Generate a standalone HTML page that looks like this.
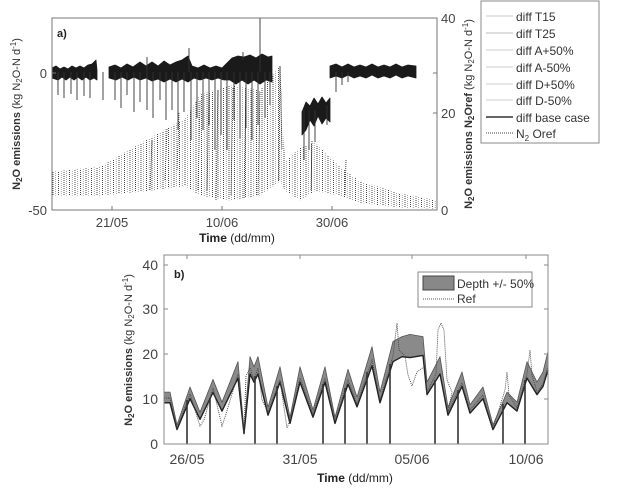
<!DOCTYPE html>
<html><head><meta charset="utf-8"><style>
html,body{margin:0;padding:0;background:#fff;}
svg{display:block;font-family:"Liberation Sans",sans-serif;}
</style></head><body>
<svg width="621" height="492" viewBox="0 0 621 492" xmlns="http://www.w3.org/2000/svg">
<defs>
<pattern id="zz" x="52" y="0" width="5.5" height="4" patternUnits="userSpaceOnUse">
<line x1="1" y1="0" x2="1" y2="4" stroke="#333" stroke-width="0.9" stroke-dasharray="1,1"/>
<line x1="3.7" y1="1" x2="3.7" y2="5" stroke="#666" stroke-width="0.6" stroke-dasharray="1,1"/>
</pattern>
</defs>
<rect width="621" height="492" fill="#fff"/>
<!-- top ref -->
<path d="M52,171.6 L100,166.8 L150,138 L185,118.8 L200,94.8 L230,85.2 L260,90 L280,66 L285,162 L300,147.6 L315,142.8 L340,166.8 L360,181.2 L400,193.2 L437,200.4 L437,208.6 L400,207.6 L360,202.8 L340,195.6 L315,190.8 L300,200.4 L285,190.8 L280,181.2 L260,195.6 L230,200.4 L200,195.6 L185,186 L150,190.8 L100,195.6 L52,195.6 Z" fill="url(#zz)"/>
<path d="M150,190 L152,140 M165,180 L167,128 M177,170 L179,112 M198,190 L200,100 M207,190 L209,95 M216,200 L218,90 M231,195 L233,88 M244,198 L246,85 M258,195 L260,92 M279,180 L280,66 L282,150 M311,190 L312,140 M345,195 L346,160" stroke="#333" stroke-width="0.9" stroke-dasharray="1,1" fill="none"/>
<!-- top diff band -->
<g fill="#1a1a1a" stroke="#1a1a1a" stroke-width="0.8" stroke-linejoin="round">
<path d="M52,68 L56,66 L60,69 L64,67 L68,69 L72,66 L76,68 L80,66 L84,68 L88,65 L92,64 L96,60 L97,70 L97,80 L94,78 L90,80 L86,77 L82,80 L78,77 L74,80 L70,77 L66,80 L62,77 L58,80 L52,78 Z"/>
<path d="M109,67 L115,65 L121,68 L127,64 L133,67 L140,62 L146,66 L152,62 L158,66 L164,61 L170,65 L176,62 L182,60 L188,56 L192,66 L198,68 L204,65 L210,68 L216,66 L222,68 L228,62 L232,58 L238,56 L244,57 L250,55 L256,58 L262,54 L268,57 L272,56 L272,82 L266,80 L260,84 L254,80 L248,84 L242,80 L236,84 L230,80 L224,80 L218,78 L212,80 L206,78 L200,80 L194,78 L188,82 L182,79 L176,82 L170,79 L164,82 L158,79 L152,81 L146,78 L140,80 L134,77 L128,80 L122,77 L116,80 L109,78 Z"/>
<path d="M302,112 L306,102 L310,106 L314,98 L318,104 L322,97 L326,103 L330,98 L330,122 L326,118 L322,124 L318,116 L314,126 L310,120 L306,130 L302,135 Z"/>
<path d="M330,66 L336,64 L342,67 L348,64 L354,67 L360,65 L366,67 L372,64 L378,67 L384,65 L390,67 L396,64 L402,67 L408,65 L416,66 L416,78 L408,76 L402,78 L396,75 L390,78 L384,76 L378,78 L372,75 L366,78 L360,76 L354,78 L348,75 L342,78 L336,76 L330,78 Z"/>
</g>
<path d="M58,72 L58,95 M64,72 L64,98 M71,72 L71,94 M77,72 L77,100 M84,72 L84,96 M90,72 L90,98 M103,72 L103,100 M115,72 L115,100 M121,72 L121,108 M127,72 L127,95 M134,72 L134,112 M140,72 L140,102 M147,72 L147,57 M147,72 L147,110 M153,72 L153,118 M160,72 L160,100 M166,72 L166,120 M172,72 L172,110 M178,72 L178,130 M184,72 L184,112 M189,72 L189,48 M191,72 L191,140 M197,72 L197,118 M203,72 L203,130 M209,72 L209,125 M215,72 L215,150 M221,72 L221,135 M227,72 L227,150 M234,72 L234,120 M240,72 L240,138 M243,60 L243,52 M246,72 L246,128 M252,72 L252,140 M258,72 L258,125 M260,72 L260,18 M265,72 L265,118 M270,72 L270,105 M304,110 L304,160 M309,110 L309,150 M315,110 L315,142 M327,105 L327,125 M336,72 L336,92 M342,72 L342,85 M348,72 L348,82" stroke="#333" stroke-width="0.9" fill="none"/>
<!-- top axes -->
<rect x="52" y="18" width="385" height="192" fill="none" stroke="#777" stroke-width="1"/>
<g fill="#444" font-size="13">
<text x="47" y="78" text-anchor="end">0</text>
<text x="47" y="215" text-anchor="end">-50</text>
<text x="441" y="23">40</text>
<text x="441" y="118">20</text>
<text x="441" y="215">0</text>
<text x="112" y="227" text-anchor="middle">21/05</text>
<text x="222" y="227" text-anchor="middle">10/06</text>
<text x="332" y="227" text-anchor="middle">30/06</text>
</g>
<g stroke="#777"><line x1="112" y1="210" x2="112" y2="206"/><line x1="222" y1="210" x2="222" y2="206"/><line x1="332" y1="210" x2="332" y2="206"/>
<line x1="437" y1="113" x2="433" y2="113"/><line x1="52" y1="73" x2="56" y2="73"/><line x1="437" y1="73" x2="433" y2="73"/></g>
<text x="57" y="37" font-size="11" font-weight="bold" fill="#222">a)</text>
<text x="237" y="242" text-anchor="middle" font-size="12" fill="#222"><tspan font-weight="bold">Time</tspan> (dd/mm)</text>
<text transform="translate(20,114) rotate(-90)" text-anchor="middle" font-size="11" fill="#333"><tspan font-weight="bold">N<tspan font-size="8" dy="2">2</tspan><tspan dy="-2">O emissions</tspan></tspan> (kg N<tspan font-size="8" dy="2">2</tspan><tspan dy="-2">O-N d</tspan><tspan font-size="8" dy="-4">-1</tspan><tspan dy="4">)</tspan></text>
<text transform="translate(472,114) rotate(-90)" text-anchor="middle" font-size="11" fill="#333"><tspan font-weight="bold">N<tspan font-size="8" dy="2">2</tspan><tspan dy="-2">O emissions  N</tspan><tspan font-size="8" dy="2">2</tspan><tspan dy="-2">Oref</tspan></tspan> (kg N<tspan font-size="8" dy="2">2</tspan><tspan dy="-2">O-N d</tspan><tspan font-size="8" dy="-4">-1</tspan><tspan dy="4">)</tspan></text>
<!-- legend top -->
<rect x="481" y="1" width="118" height="142" fill="#fff" stroke="#888"/>
<g font-size="12" fill="#333">
<line x1="486" y1="16" x2="513" y2="16" stroke="#ccc"/><text x="516" y="21">diff T15</text>
<line x1="486" y1="33" x2="513" y2="33" stroke="#bbb"/><text x="516" y="38">diff T25</text>
<line x1="486" y1="50" x2="513" y2="50" stroke="#ccc"/><text x="516" y="55">diff A+50%</text>
<line x1="486" y1="67" x2="513" y2="67" stroke="#ccc"/><text x="516" y="72">diff A-50%</text>
<line x1="486" y1="84" x2="513" y2="84" stroke="#ccc"/><text x="516" y="89">diff D+50%</text>
<line x1="486" y1="100" x2="513" y2="100" stroke="#ccc"/><text x="516" y="105">diff D-50%</text>
<line x1="486" y1="117" x2="513" y2="117" stroke="#333" stroke-width="1.5"/><text x="516" y="122">diff base case</text>
<line x1="486" y1="133" x2="513" y2="133" stroke="#444" stroke-dasharray="1,1"/><text x="516" y="138">N<tspan font-size="8" dy="3">2</tspan><tspan dy="-3"> Oref</tspan></text>
</g>
<!-- bottom band -->
<path d="M164,392.1 L170,392.1 L177,424.9 L190,387 L200,412.3 L213,379.4 L222,402.2 L238,361.7 L244,430 L250,356.7 L254,366.8 L258,356.7 L268,407.3 L280,366.8 L290,417.4 L300,366.8 L313,409.8 L325,366.8 L335,417.4 L348,369.3 L357,397.1 L372,346.6 L380,392.1 L393,341.5 L402,336.6 L410,334.4 L423,336.6 L427,382 L440,356.7 L448,407.3 L462,371.9 L470,404.7 L483,387 L493,424.9 L507,392.1 L517,402.2 L527,361.7 L537,382 L543,371.9 L548,351.6 L548,369.9 L543,386.4 L537,394.6 L527,378.1 L517,411.1 L507,402.8 L493,429.6 L483,398.7 L470,413.1 L462,386.4 L448,415.2 L440,374 L427,394.6 L423,355.4 L410,357.6 L402,356.7 L393,361.7 L380,402.8 L372,365.8 L357,406.9 L348,384.3 L335,423.4 L325,382.2 L313,417.2 L300,382.2 L290,423.4 L280,382.2 L268,415.2 L258,374 L254,382.2 L250,374 L244,433.7 L238,378.1 L222,411.1 L213,392.5 L200,419.3 L190,398.7 L177,429.6 L170,402.8 L164,402.8 Z" fill="#8a8a8a" stroke="#555" stroke-width="0.8" stroke-linejoin="round"/>
<path d="M164,402.8 L170,402.8 L177,429.6 L190,398.7 L200,419.3 L213,392.5 L222,411.1 L238,378.1 L244,433.7 L250,374 L254,382.2 L258,374 L268,415.2 L280,382.2 L290,423.4 L300,382.2 L313,417.2 L325,382.2 L335,423.4 L348,384.3 L357,406.9 L372,365.8 L380,402.8 L393,361.7 L402,356.7 L410,357.6 L423,355.4 L427,394.6 L440,374 L448,415.2 L462,386.4 L470,413.1 L483,398.7 L493,429.6 L507,402.8 L517,411.1 L527,378.1 L537,394.6 L543,386.4 L548,369.9" fill="none" stroke="#222" stroke-width="1.4" stroke-linejoin="round"/>
<!-- ref dotted -->
<path d="M164,398 L170,398 L177,428 L190,394 L200,426 L204,420 L213,388 L222,426 L226,414 L238,374 L242,408 L244,432 L246,376 L250,368 L254,380 L258,368 L262,400 L268,412 L280,380 L287,428 L290,420 L300,378 L313,414 L325,378 L335,421 L348,380 L357,404 L372,360 L380,400 L393,356 L397,323 L399,350 L405,356 L408,375 L412,386 L417,372 L425,366 L427,392 L436,374 L438,330 L441,323 L444,330 L447,380 L452,392 L448,412 L462,383 L470,410 L483,395 L493,428 L505,390 L507,372 L509,395 L517,408 L527,374 L530,350 L532,375 L537,392 L543,384 L548,366" fill="none" stroke="#444" stroke-width="0.9" stroke-dasharray="1,1"/>
<g stroke="#333" stroke-width="1.6">
<line x1="187" y1="444" x2="187" y2="400"/><line x1="210" y1="444" x2="210" y2="398"/><line x1="255" y1="444" x2="255" y2="376"/><line x1="277" y1="444" x2="277" y2="386"/><line x1="323" y1="444" x2="323" y2="384"/><line x1="345" y1="444" x2="345" y2="388"/><line x1="367" y1="444" x2="367" y2="372"/><line x1="390" y1="444" x2="390" y2="364"/><line x1="435" y1="444" x2="435" y2="380"/><line x1="458" y1="444" x2="458" y2="390"/><line x1="503" y1="444" x2="503" y2="404"/><line x1="525" y1="444" x2="525" y2="380"/>
</g>
<!-- bottom axes -->
<rect x="164" y="255" width="384" height="189" fill="none" stroke="#888"/>
<g fill="#444" font-size="14">
<text x="158" y="270" text-anchor="end">40</text>
<text x="158" y="314" text-anchor="end">30</text>
<text x="158" y="359" text-anchor="end">20</text>
<text x="158" y="404" text-anchor="end">10</text>
<text x="158" y="449" text-anchor="end">0</text>
<text x="187" y="464" text-anchor="middle">26/05</text>
<text x="300" y="464" text-anchor="middle">31/05</text>
<text x="412" y="464" text-anchor="middle">05/06</text>
<text x="526" y="464" text-anchor="middle">10/06</text>
</g>
<g stroke="#888"><line x1="164" y1="265" x2="168" y2="265"/><line x1="164" y1="309" x2="168" y2="309"/><line x1="164" y1="354" x2="168" y2="354"/><line x1="164" y1="399" x2="168" y2="399"/>
<line x1="548" y1="265" x2="544" y2="265"/><line x1="548" y1="309" x2="544" y2="309"/><line x1="548" y1="354" x2="544" y2="354"/><line x1="548" y1="399" x2="544" y2="399"/>
<line x1="187" y1="255" x2="187" y2="259"/><line x1="300" y1="255" x2="300" y2="259"/><line x1="412" y1="255" x2="412" y2="259"/><line x1="526" y1="255" x2="526" y2="259"/></g>
<text x="174" y="278" font-size="11" font-weight="bold" fill="#222">b)</text>
<text x="355" y="482" text-anchor="middle" font-size="12" fill="#222"><tspan font-weight="bold">Time</tspan> (dd/mm)</text>
<text transform="translate(132,350) rotate(-90)" text-anchor="middle" font-size="11" fill="#333"><tspan font-weight="bold">N<tspan font-size="8" dy="2">2</tspan><tspan dy="-2">O emissions</tspan></tspan> (kg N<tspan font-size="8" dy="2">2</tspan><tspan dy="-2">O-N d</tspan><tspan font-size="8" dy="-4">-1</tspan><tspan dy="4">)</tspan></text>
<rect x="418" y="272" width="114" height="35" fill="#fff" stroke="#888"/>
<rect x="423" y="276" width="31" height="14" fill="#888" stroke="#444"/>
<text x="457" y="288" font-size="12" fill="#333">Depth +/- 50%</text>
<line x1="423" y1="299" x2="454" y2="299" stroke="#555" stroke-dasharray="1,1"/>
<text x="457" y="303" font-size="12" fill="#333">Ref</text>
</svg>
</body></html>
